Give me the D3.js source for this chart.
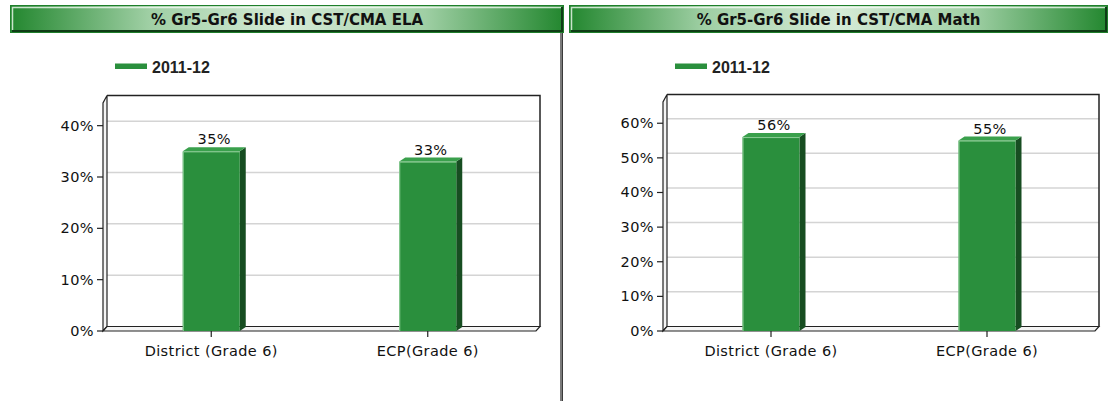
<!DOCTYPE html>
<html>
<head>
<meta charset="utf-8">
<script src="https://cdn.jsdelivr.net/npm/d3@7"></script>
<style>
  html, body { margin: 0; padding: 0; background: #fff; }
  svg { display: block; }
  .tick-label, .cat-label, .val-label { font-family: "DejaVu Sans", Verdana, sans-serif; font-size: 14.5px; letter-spacing: 0.4px; fill: #111; }
  .title { font-family: "DejaVu Sans", Verdana, sans-serif; font-weight: bold; font-size: 15px; fill: #111; }
  .legend-label { font-family: "Liberation Sans", Arial, sans-serif; font-weight: bold; font-size: 16px; fill: #222; }
</style>
</head>
<body>
<svg id="svg" width="1108" height="401"></svg>
<script>
"use strict";
// data
const categories = ["District (Grade 6)", "ECP(Grade 6)"];
const seriesName = "2011-12";
const panelTitles = ["% Gr5-Gr6 Slide in CST/CMA ELA", "% Gr5-Gr6 Slide in CST/CMA Math"];
const elaValues = [35, 33];
const mathValues = [56, 55];
const elaTicks = [0, 10, 20, 30, 40];
const mathTicks = [0, 10, 20, 30, 40, 50, 60];
const elaMax = 45;
const mathMax = 67;

const conf = {
    barColor: "#2a8f3d",
    barSide: "#174d21",
    barTop: "#3aa04c",
    depthX: 4,
    depthY: -4.5,
    barDX: 6,
    barDY: -4
};

let svg = d3.select("#svg");
let defs = svg.append("defs");
let grad = defs.append("linearGradient").attr("id", "titleGrad");
grad.append("stop").attr("offset", "0%").attr("stop-color", "#23872f");
grad.append("stop").attr("offset", "25%").attr("stop-color", "#9fcfa4");
grad.append("stop").attr("offset", "50%").attr("stop-color", "#d6ebd7");
grad.append("stop").attr("offset", "75%").attr("stop-color", "#9fcfa4");
grad.append("stop").attr("offset", "100%").attr("stop-color", "#23872f");

// divider between the two panels
svg.append("rect").attr("x", 560).attr("y", 8).attr("width", 3).attr("height", 393).attr("fill", "#7a7a7a");
svg.append("rect").attr("x", 562).attr("y", 8).attr("width", 1).attr("height", 393).attr("fill", "#3a3a3a");

function drawPanel(p) {
    let g = svg.append("g");

    // title bar
    g.append("rect")
        .attr("x", p.titleX0 + 0.5).attr("y", 5.5)
        .attr("width", p.titleX1 - p.titleX0 - 1).attr("height", 27)
        .attr("fill", "url(#titleGrad)")
        .attr("stroke", "#1f7f2b");
    g.append("path")
        .attr("d", `M${p.titleX0 + 2.5},30 V7.5 H${p.titleX1 - 2}`)
        .attr("fill", "none").attr("stroke", "#f2faf2").attr("stroke-width", 1.5).attr("opacity", 0.8);
    g.append("rect")
        .attr("x", p.titleX0 + 2).attr("y", 30)
        .attr("width", p.titleX1 - p.titleX0 - 3).attr("height", 2)
        .attr("fill", "#0f3d16");
    g.append("rect")
        .attr("x", p.titleX1 - 3).attr("y", 7)
        .attr("width", 2).attr("height", 25)
        .attr("fill", "#0f3d16");
    g.append("text")
        .attr("class", "title")
        .attr("x", (p.titleX0 + p.titleX1) / 2).attr("y", 24.5)
        .attr("text-anchor", "middle")
        .text(p.title);

    // legend
    g.append("rect")
        .attr("x", p.legendX).attr("y", 63.5).attr("width", 32).attr("height", 5.5)
        .attr("fill", conf.barColor);
    g.append("text")
        .attr("class", "legend-label")
        .attr("x", p.legendX + 37).attr("y", 72.5)
        .text(seriesName);

    let x = d3.scaleBand().domain(categories).range([p.x0, p.x1]);
    let y = d3.scaleLinear().domain([0, p.max]).range([p.y0, p.y0 - p.h]);
    let dx = conf.depthX, dy = conf.depthY;

    // back wall
    g.append("rect")
        .attr("x", p.x0 + dx).attr("y", y(p.max) + dy)
        .attr("width", p.x1 - p.x0).attr("height", y(0) - y(p.max))
        .attr("fill", "#fff");

    // gridlines on the back wall
    g.selectAll(".grid")
        .data(p.ticks.filter(d => d > 0))
        .enter().append("line")
        .attr("x1", p.x0 + dx).attr("x2", p.x1 + dx)
        .attr("y1", d => y(d) + dy).attr("y2", d => y(d) + dy)
        .attr("stroke", "#d4d4d4").attr("stroke-width", 1.5);

    // back wall outline (top + right)
    g.append("path")
        .attr("d", `M${p.x0 + dx},${y(p.max) + dy} H${p.x1 + dx} V${y(0) + dy}`)
        .attr("fill", "none").attr("stroke", "#222").attr("stroke-width", 1.5);

    // left wall
    g.append("path")
        .attr("d", `M${p.x0},${y(0)} V${y(p.max) + 3} L${p.x0 + dx},${y(p.max) + dy} V${y(0) + dy} Z`)
        .attr("fill", "#f4f4f4").attr("stroke", "#222").attr("stroke-width", 1.2);

    // floor
    g.append("path")
        .attr("d", `M${p.x0},${y(0)} L${p.x0 + dx},${y(0) + dy} H${p.x1 + dx} L${p.x1},${y(0)} Z`)
        .attr("fill", "#f4f4f4").attr("stroke", "#222").attr("stroke-width", 1.2);

    // bars
    let bw = 57;
    let bars = g.selectAll(".bar")
        .data(p.values)
        .enter().append("g");
    let bx = (d, i) => x(categories[i]) + x.bandwidth() / 2 - bw / 2;
    bars.append("path")
        .attr("d", (d, i) => {
            let x1 = bx(d, i) + bw;
            return `M${x1},${y(d)} L${x1 + conf.barDX},${y(d) + conf.barDY} V${y(0) + conf.barDY} L${x1},${y(0)} Z`;
        })
        .attr("fill", conf.barSide);
    bars.append("path")
        .attr("d", (d, i) => {
            let x0 = bx(d, i);
            return `M${x0},${y(d)} L${x0 + conf.barDX},${y(d) + conf.barDY} H${x0 + bw + conf.barDX} L${x0 + bw},${y(d)} Z`;
        })
        .attr("fill", conf.barTop);
    bars.append("rect")
        .attr("x", bx).attr("y", d => y(d))
        .attr("width", bw).attr("height", d => y(0) - y(d))
        .attr("fill", conf.barColor);
    bars.append("path")
        .attr("d", (d, i) => `M${bx(d, i) + 0.5},${y(0)} V${y(d) + 0.5} H${bx(d, i) + bw}`)
        .attr("fill", "none").attr("stroke", "#8fcf98").attr("stroke-width", 1);
    bars.append("text")
        .attr("class", "val-label")
        .attr("x", (d, i) => bx(d, i) + bw / 2 + 3)
        .attr("y", d => y(d) + conf.barDY - 3)
        .attr("text-anchor", "middle")
        .text(d => d + "%");

    // y axis ticks and labels
    let ya = g.selectAll(".ytick")
        .data(p.ticks)
        .enter().append("g");
    ya.append("line")
        .attr("x1", p.x0 - 6).attr("x2", p.x0)
        .attr("y1", d => y(d)).attr("y2", d => y(d))
        .attr("stroke", "#222").attr("stroke-width", 1.2);
    ya.append("text")
        .attr("class", "tick-label")
        .attr("x", p.x0 - 9).attr("y", d => y(d) + 5)
        .attr("text-anchor", "end")
        .text(d => d + "%");

    // x axis ticks and labels
    let xa = g.selectAll(".xtick")
        .data(categories)
        .enter().append("g");
    xa.append("line")
        .attr("x1", d => x(d) + x.bandwidth() / 2).attr("x2", d => x(d) + x.bandwidth() / 2)
        .attr("y1", y(0)).attr("y2", y(0) + 6)
        .attr("stroke", "#222").attr("stroke-width", 1.2);
    xa.append("text")
        .attr("class", "cat-label")
        .attr("x", d => x(d) + x.bandwidth() / 2).attr("y", y(0) + 25)
        .attr("text-anchor", "middle")
        .text(d => d);
}

drawPanel({ title: panelTitles[0], values: elaValues, ticks: elaTicks, max: elaMax,
    titleX0: 10, titleX1: 564, legendX: 115, x0: 103, x1: 536, y0: 331, h: 231 });
drawPanel({ title: panelTitles[1], values: mathValues, ticks: mathTicks, max: mathMax,
    titleX0: 569, titleX1: 1108, legendX: 675, x0: 663, x1: 1095, y0: 331, h: 232 });
</script>
</body>
</html>
